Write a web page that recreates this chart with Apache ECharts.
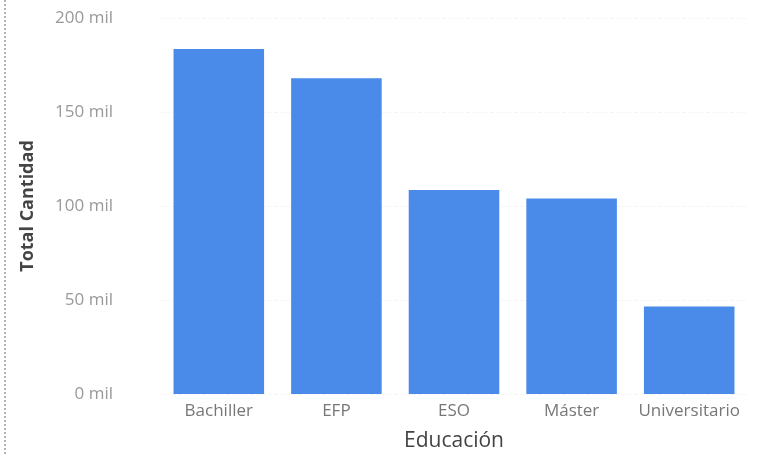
<!DOCTYPE html>
<html><head><meta charset="utf-8">
<script src="https://cdn.jsdelivr.net/npm/echarts@6/dist/echarts.min.js"></script>
<style>html,body{margin:0;padding:0;background:#fff}#c{width:774px;height:456px}</style>
</head><body><div id="c"></div>
<script>
const categories = ['Bachiller', 'EFP', 'ESO', 'Máster', 'Universitario'];
const values = [183500, 168000, 108500, 104000, 46500];
const yTicks = [0, 50000, 100000, 150000, 200000];

const chart = echarts.init(document.getElementById('c'));
chart.setOption({
  animation: false,
  textStyle: { fontFamily: 'Open Sans' },
  graphic: [{
    type: 'line', shape: { x1: 5, y1: 0, x2: 5, y2: 456 },
    style: { stroke: '#999', lineWidth: 1.5, lineDash: [2, 2] }
  }],
  grid: { left: 160, right: 26, top: 18, bottom: 62, containLabel: false, outerBoundsMode: 'none' },
  xAxis: {
    type: 'category', data: categories,
    name: 'Educación', nameLocation: 'middle', nameGap: 37,
    nameTextStyle: { fontSize: 21, color: '#444' },
    axisLine: { show: false }, axisTick: { show: false },
    axisLabel: { color: '#777', fontSize: 17, margin: 9, interval: 0 }
  },
  yAxis: {
    type: 'value', min: yTicks[0], max: yTicks[yTicks.length - 1], interval: 50000,
    name: 'Total Cantidad', nameLocation: 'middle', nameGap: 123,
    nameTextStyle: { fontSize: 18, color: '#444', fontWeight: 'bold' },
    axisLabel: { color: '#999', fontSize: 17, margin: 47, formatter: v => (v / 1000) + ' mil' },
    splitLine: { lineStyle: { color: '#f5f5f5', type: 'dashed' } }
  },
  series: [{
    type: 'bar', data: values, barWidth: '77%',
    itemStyle: { color: '#4a8ae9' }
  }]
});
</script></body></html>
